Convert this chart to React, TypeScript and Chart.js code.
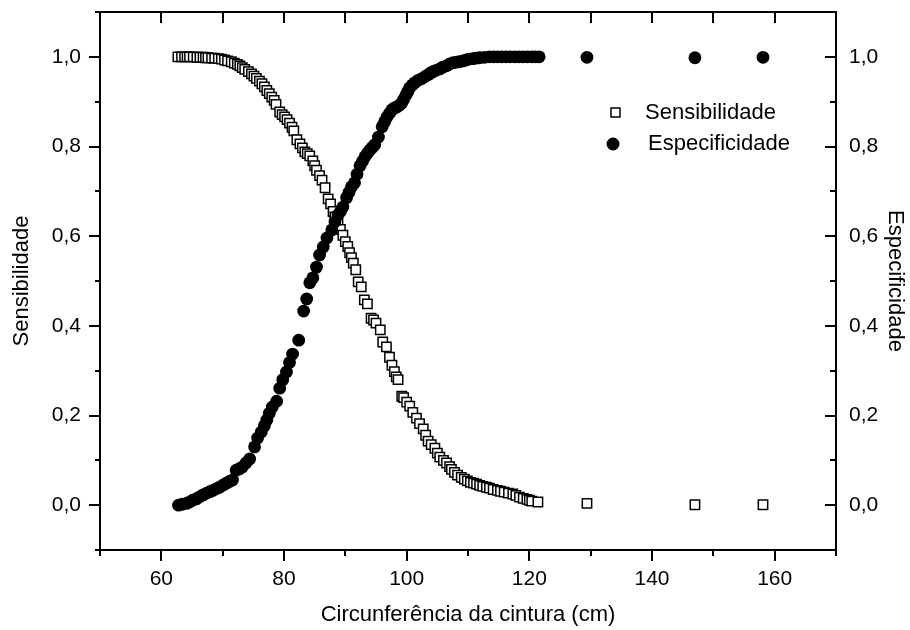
import React, { useEffect, useRef } from "react";
import { Chart, registerables } from "chart.js";

Chart.register(...registerables);

const sensX = [62.7, 63.3, 63.8, 64.2, 64.6, 65.2, 65.8, 66.3, 66.8, 67.2, 67.6, 68.2, 68.7, 69.3, 69.8, 70.3, 70.8, 71.4, 71.9, 72.4, 72.8, 73.2, 73.6, 74.2, 74.7, 75.1, 75.5, 76.0, 76.4, 76.8, 77.2, 77.6, 78.0, 78.4, 78.7, 79.3, 79.7, 80.1, 80.5, 80.9, 81.3, 81.6, 82.1, 82.6, 83.0, 83.4, 83.8, 84.2, 84.7, 85.0, 85.3, 85.8, 86.2, 86.7, 87.2, 87.6, 88.0, 88.3, 88.8, 89.2, 89.6, 90.0, 90.4, 90.7, 91.0, 91.3, 91.7, 92.1, 92.6, 93.1, 93.6, 94.2, 94.6, 95.0, 95.7, 96.1, 96.7, 97.2, 97.6, 98.0, 98.3, 98.6, 99.2, 99.5, 100.0, 100.5, 101.0, 101.6, 102.1, 102.7, 103.1, 103.5, 104.0, 104.6, 105.0, 105.4, 106.0, 106.5, 107.0, 107.3, 107.8, 108.3, 108.9, 109.4, 109.9, 110.4, 110.9, 111.4, 111.9, 112.4, 113.0, 113.5, 114.1, 114.8, 115.3, 115.9, 116.6, 117.3, 117.8, 118.4, 119.0, 119.6, 120.0, 120.4, 121.4, 129.4, 147.0, 158.1];
const sensY = [1.0, 1.0, 1.0, 1.0, 1.0, 1.0, 0.999, 0.999, 0.999, 0.998, 0.998, 0.997, 0.997, 0.996, 0.995, 0.993, 0.991, 0.989, 0.986, 0.983, 0.98, 0.976, 0.972, 0.967, 0.962, 0.957, 0.952, 0.946, 0.94, 0.933, 0.925, 0.918, 0.91, 0.903, 0.894, 0.877, 0.871, 0.866, 0.86, 0.852, 0.843, 0.835, 0.815, 0.806, 0.797, 0.788, 0.784, 0.779, 0.768, 0.757, 0.747, 0.735, 0.725, 0.708, 0.683, 0.672, 0.655, 0.643, 0.628, 0.615, 0.602, 0.588, 0.577, 0.563, 0.552, 0.54, 0.525, 0.498, 0.487, 0.458, 0.449, 0.417, 0.413, 0.406, 0.391, 0.364, 0.353, 0.33, 0.312, 0.298, 0.286, 0.28, 0.243, 0.24, 0.23, 0.221, 0.207, 0.194, 0.182, 0.17, 0.156, 0.143, 0.135, 0.127, 0.116, 0.107, 0.1, 0.094, 0.086, 0.08, 0.073, 0.067, 0.062, 0.058, 0.054, 0.051, 0.049, 0.047, 0.044, 0.042, 0.04, 0.038, 0.035, 0.033, 0.031, 0.029, 0.027, 0.025, 0.022, 0.018, 0.015, 0.013, 0.011, 0.009, 0.007, 0.004, 0.001, 0.001];

const specX = [62.8, 63.4, 64.1, 64.6, 65.1, 65.7, 66.2, 66.8, 67.4, 67.9, 68.4, 69.0, 69.5, 70.1, 70.6, 71.1, 71.6, 72.2, 72.7, 73.2, 73.8, 74.4, 75.2, 75.7, 76.3, 76.8, 77.2, 77.6, 78.1, 78.8, 79.3, 79.8, 80.4, 80.9, 81.4, 82.4, 83.2, 83.7, 84.2, 84.7, 85.3, 85.8, 86.4, 87.0, 87.8, 88.3, 88.8, 89.2, 89.6, 90.2, 90.6, 91.0, 91.5, 91.9, 92.4, 92.8, 93.2, 93.6, 94.0, 94.4, 94.8, 95.4, 96.0, 96.4, 96.8, 97.2, 97.6, 98.0, 98.4, 98.8, 99.2, 99.5, 99.9, 100.2, 100.5, 100.9, 101.3, 101.8, 102.4, 103.0, 103.5, 103.9, 104.3, 104.8, 105.4, 105.9, 106.5, 107.0, 107.6, 108.1, 108.6, 109.2, 109.7, 110.2, 110.8, 111.3, 111.9, 112.7, 113.5, 114.2, 114.8, 115.5, 116.2, 116.9, 117.6, 118.3, 119.0, 119.7, 120.4, 121.0, 121.6, 129.4, 147.0, 158.1];
const specY = [0.0, 0.002, 0.004, 0.007, 0.011, 0.014, 0.018, 0.023, 0.027, 0.03, 0.033, 0.037, 0.04, 0.045, 0.049, 0.053, 0.056, 0.078, 0.081, 0.085, 0.094, 0.103, 0.13, 0.15, 0.163, 0.177, 0.19, 0.205, 0.219, 0.232, 0.261, 0.28, 0.297, 0.318, 0.337, 0.368, 0.433, 0.46, 0.496, 0.507, 0.531, 0.558, 0.576, 0.596, 0.614, 0.632, 0.647, 0.655, 0.665, 0.686, 0.698, 0.71, 0.719, 0.738, 0.757, 0.767, 0.777, 0.785, 0.792, 0.798, 0.804, 0.821, 0.844, 0.855, 0.866, 0.874, 0.882, 0.886, 0.888, 0.892, 0.897, 0.905, 0.915, 0.923, 0.931, 0.937, 0.942, 0.947, 0.951, 0.956, 0.96, 0.964, 0.967, 0.97, 0.973, 0.977, 0.98, 0.984, 0.987, 0.988, 0.989, 0.991, 0.993, 0.995, 0.996, 0.997, 0.998, 0.999, 1.0, 1.0, 1.0, 1.0, 1.0, 1.0, 1.0, 1.0, 1.0, 1.0, 1.0, 1.0, 1.0, 0.999, 0.998, 0.999];

const seriesNames = ["Sensibilidade", "Especificidade"];
const xTitle = "Circunferência da cintura (cm)";
const xMajorTicks = [60, 80, 100, 120, 140, 160];
const xMinorTicks = [50, 70, 90, 110, 130, 150, 170];
const yMajorTicks = [0, 0.2, 0.4, 0.6, 0.8, 1.0];
const yMinorTicks = [-0.1, 0.1, 0.3, 0.5, 0.7, 0.9, 1.1];

const FONT = "'Liberation Sans', Arial, Helvetica, sans-serif";

const fmtY = (v: number) => v.toFixed(1).replace(".", ",");

const framePlugin = {
  id: "frameTicksLegend",
  afterDraw(chart: any) {
    const ctx = chart.ctx;
    const xs = chart.scales.x;
    const ys = chart.scales.y;
    const a = chart.chartArea;
    ctx.save();
    ctx.strokeStyle = "#000";
    ctx.lineWidth = 2;
    ctx.lineCap = "butt";
    ctx.beginPath();
    const line = (x1: number, y1: number, x2: number, y2: number) => {
      ctx.moveTo(x1, y1);
      ctx.lineTo(x2, y2);
    };
    xMajorTicks.forEach((v) => {
      const p = Math.round(xs.getPixelForValue(v));
      line(p, a.bottom, p, a.bottom + 11);
    });
    xMinorTicks.forEach((v) => {
      const p = Math.round(xs.getPixelForValue(v));
      line(p, a.bottom, p, a.bottom + 6);
    });
    [...xMajorTicks, ...xMinorTicks].forEach((v) => {
      const p = Math.round(xs.getPixelForValue(v));
      line(p, a.top, p, a.top + 11);
    });
    yMajorTicks.forEach((v) => {
      const p = Math.round(ys.getPixelForValue(v));
      line(a.left - 11, p, a.left, p);
    });
    yMinorTicks.forEach((v) => {
      const p = Math.round(ys.getPixelForValue(v));
      line(a.left - 5, p, a.left, p);
    });
    yMajorTicks.forEach((v) => {
      const p = Math.round(ys.getPixelForValue(v));
      line(a.right - 11, p, a.right, p);
    });
    yMinorTicks.forEach((v) => {
      const p = Math.round(ys.getPixelForValue(v));
      line(a.right - 6, p, a.right, p);
    });
    ctx.stroke();
    ctx.strokeRect(a.left, a.top, a.right - a.left, a.bottom - a.top);

    ctx.font = `22px ${FONT}`;
    ctx.textBaseline = "middle";
    ctx.textAlign = "left";
    ctx.lineWidth = 1.5;
    ctx.fillStyle = "#fff";
    ctx.fillRect(611, 108, 9, 9);
    ctx.strokeRect(611, 108, 9, 9);
    ctx.fillStyle = "#000";
    ctx.fillText(seriesNames[0], 645, 113);
    ctx.beginPath();
    ctx.arc(613, 144, 6.5, 0, Math.PI * 2);
    ctx.fill();
    ctx.fillText(seriesNames[1], 648, 144);
    ctx.restore();
  },
};

export default function App() {
  const ref = useRef<HTMLCanvasElement | null>(null);
  useEffect(() => {
    if (!ref.current) return;
    const tickFont = { family: FONT, size: 21 };
    const titleFont = { family: FONT, size: 22 };
    const chart = new Chart(ref.current, {
      type: "scatter",
      data: {
        datasets: [
          {
            label: seriesNames[0],
            data: sensX.map((x, i) => ({ x, y: sensY[i] })),
            pointStyle: "rect",
            pointRadius: 6.6,
            pointBorderWidth: 1.5,
            pointBackgroundColor: "#fff",
            pointBorderColor: "#000",
            order: 1,
            yAxisID: "y",
          },
          {
            label: seriesNames[1],
            data: specX.map((x, i) => ({ x, y: specY[i] })),
            pointStyle: "circle",
            pointRadius: 6.4,
            pointBorderWidth: 0,
            pointBackgroundColor: "#000",
            pointBorderColor: "#000",
            order: 0,
            yAxisID: "y",
          },
        ],
      },
      options: {
        animation: false,
        responsive: false,
        devicePixelRatio: 1,
        layout: { padding: { top: 12, left: 0, right: 0, bottom: 0 } },
        plugins: { legend: { display: false }, tooltip: { enabled: false } },
        scales: {
          x: {
            type: "linear",
            position: "bottom",
            min: 50,
            max: 170,
            grid: { display: false, drawTicks: false },
            border: { display: false },
            afterBuildTicks: (s: any) => {
              s.ticks = xMajorTicks.map((v) => ({ value: v }));
            },
            afterFit: (s: any) => {
              s.height = 80;
              s.paddingLeft = 0;
              s.paddingRight = 0;
            },
            ticks: {
              font: tickFont,
              color: "#000",
              padding: 17,
              maxRotation: 0,
              callback: (v: any) => String(v),
            },
            title: {
              display: true,
              text: xTitle,
              font: titleFont,
              color: "#000",
              padding: { top: 0, bottom: 2 },
            },
          },
          y: {
            type: "linear",
            position: "left",
            min: -0.1,
            max: 1.1,
            grid: { display: false, drawTicks: false },
            border: { display: false },
            afterBuildTicks: (s: any) => {
              s.ticks = yMajorTicks.map((v) => ({ value: v }));
            },
            afterFit: (s: any) => {
              s.width = 100;
              s.paddingTop = 0;
              s.paddingBottom = 0;
            },
            ticks: {
              font: tickFont,
              color: "#000",
              padding: 19,
              callback: (v: any) => fmtY(Number(v)),
            },
            title: {
              display: true,
              text: seriesNames[0],
              font: titleFont,
              color: "#000",
              padding: { top: 9, bottom: 0 },
            },
          },
          y2: {
            type: "linear",
            position: "right",
            min: -0.1,
            max: 1.1,
            grid: { display: false, drawTicks: false },
            border: { display: false },
            afterBuildTicks: (s: any) => {
              s.ticks = yMajorTicks.map((v) => ({ value: v }));
            },
            afterFit: (s: any) => {
              s.width = 74;
              s.paddingTop = 0;
              s.paddingBottom = 0;
            },
            ticks: {
              font: tickFont,
              color: "#000",
              padding: 13,
              callback: (v: any) => fmtY(Number(v)),
            },
            title: {
              display: true,
              text: seriesNames[1],
              font: titleFont,
              color: "#000",
              padding: { top: 2, bottom: 0 },
            },
          },
        },
      },
      plugins: [framePlugin],
    } as any);
    return () => chart.destroy();
  }, []);
  return (
    <div style={{ position: "absolute", left: 0, top: 0, width: 910, height: 630, background: "#fff" }}>
      <canvas ref={ref} width={910} height={630} />
    </div>
  );
}
